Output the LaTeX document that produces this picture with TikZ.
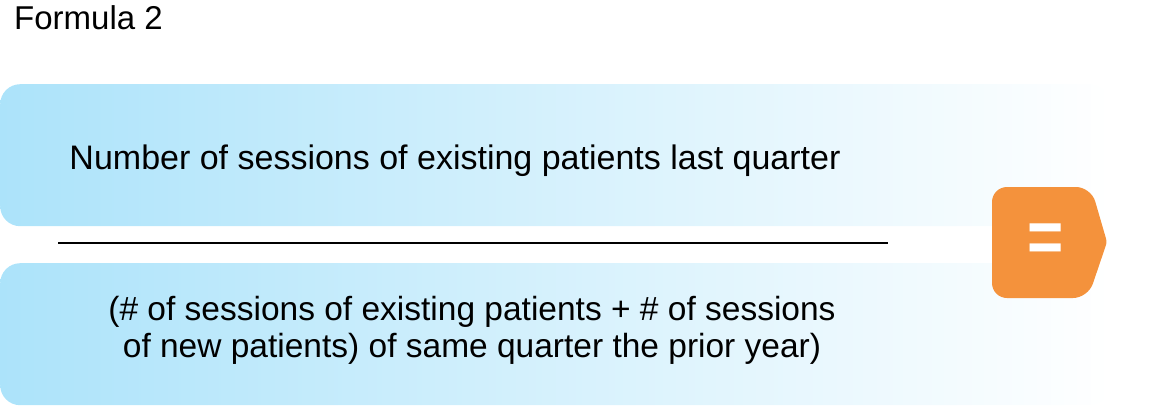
\documentclass[tikz,border=0pt]{standalone}
\usepackage{fontspec}
\setmainfont{Liberation Sans}
\usetikzlibrary{positioning}
\definecolor{skyblue}{HTML}{ACE3FA}
\definecolor{eqorange}{HTML}{F4923C}

\begin{document}
\begin{tikzpicture}[x=1pt,y=-1pt]
        \tikzstyle{fadebox} = [rectangle, rounded corners=20pt, left color=skyblue, right color=white, minimum width=1110pt, minimum height=142pt, anchor=north west, inner sep=0pt]
        \tikzstyle{bodytext} = [font=\fontsize{33.5}{37}\selectfont, align=center, inner sep=0pt]
        \useasboundingbox (0,0) rectangle (1159,407);
        \node (numbox) [fadebox] at (0,84) {};
        \node (denbox) [fadebox] at (0,263) {};
        \node (title) [anchor=base west, inner sep=0pt, font=\fontsize{33}{36}\selectfont] at (14,29) {Formula 2};
        \node (numtext) [bodytext, font=\fontsize{34}{37}\selectfont, anchor=base] at (455,169) {Number of sessions of existing patients last quarter};
        \node (dentext) [bodytext, anchor=base] at (472,357) {(\# of sessions of existing patients + \# of sessions\\of new patients) of same quarter the prior year)};
        \coordinate (barleft) at (58,243);
        \coordinate (barright) at (888,243);
        \draw[line width=2.8pt] (barleft) -- (barright);
        \fill[eqorange, rounded corners=15pt] (992,187) -- (1091,187) [rounded corners=3pt] -- (1107,242) [rounded corners=15pt] -- (1088,298) -- (992,298) -- cycle;
        \node (eqsign) [text=white, font=\fontsize{62}{62}\bfseries, inner sep=0pt, yscale=1.2] at (1046,243) {=};
    \end{tikzpicture}
\end{document}
